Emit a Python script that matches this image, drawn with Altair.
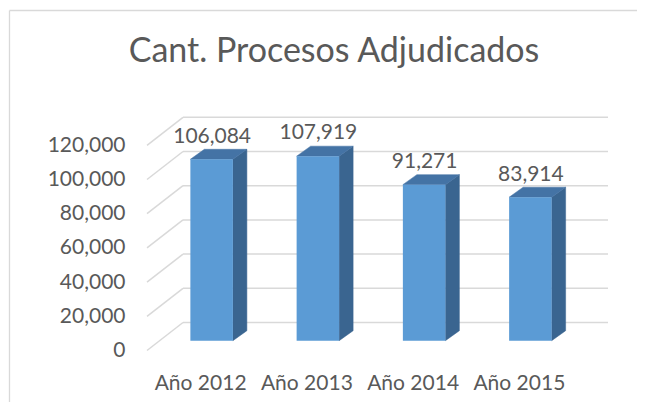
import altair as alt
import pandas as pd

# ---- data ----
categories = ["Año 2012", "Año 2013", "Año 2014", "Año 2015"]
values = [106084, 107919, 91271, 83914]
y_ticks = [0, 20000, 40000, 60000, 80000, 100000, 120000]
title_text = "Cant. Procesos Adjudicados"

# ---- geometry / style ----
W = 425.0
H = 205.2
YMAX = 120000
n = len(categories)
px_x = W / n
px_y = H / YMAX

BAR_HALF = 0.2
DEPTH_X = 14 / px_x
DEPTH_Y = 10 / px_y
BAR_DX = 11.5
BAR_DY = -9.8
WALL_DX = 36
WALL_DY = -28

FONT = "Lato"
FS = 21
TXT = "#595959"
GRID = "#D9D9D9"
FRONT = "#5B9BD5"
TOP = "#4473A5"
SIDE = "#3A6590"

front = pd.DataFrame({"cat": categories, "value": values, "i": list(range(n))})
front["x0"] = front["i"] + 0.5 - BAR_HALF
front["x1"] = front["i"] + 0.5 + BAR_HALF
front["xc"] = front["i"] + 0.5
front["zero"] = 0

side_rows, top_rows = [], []
for i, v in enumerate(values):
    xr = i + 0.5 + BAR_HALF
    xl = i + 0.5 - BAR_HALF
    side_rows.append({"bar": i, "x": xr, "top": v, "base": 0})
    side_rows.append({"bar": i, "x": xr + DEPTH_X, "top": v + DEPTH_Y, "base": DEPTH_Y})
    top_rows.append({"bar": i, "y": v, "xa": xl, "xb": xr})
    top_rows.append({"bar": i, "y": v + DEPTH_Y, "xa": xl + DEPTH_X, "xb": xr + DEPTH_X})
side = pd.DataFrame(side_rows)
topf = pd.DataFrame(top_rows)

grid = pd.DataFrame({"v": y_ticks, "x0": 0, "x1": n})

xs = alt.Scale(domain=[0, n], nice=False, zero=False)
ys = alt.Scale(domain=[0, YMAX], nice=False, zero=False)

label_expr = "[" + ",".join("'" + c + "'" for c in categories) + "][floor(datum.value)]"
x_axis = alt.Axis(values=[i + 0.5 for i in range(n)], labelExpr=label_expr, title=None,
                  grid=False, domain=False, ticks=False, tickSize=0, labelPadding=32.5,
                  labelBaseline="middle", labelFont=FONT, labelFontSize=FS, labelColor=TXT,
                  labelOverlap=False, labelFlush=False)
y_axis = alt.Axis(values=y_ticks, format=",d", title=None, grid=False, domain=False,
                  ticks=False, tickSize=0, labelPadding=22, labelBaseline="middle",
                  labelFont=FONT, labelFontSize=FS, labelColor=TXT)


def X(f):
    return alt.X(f, scale=xs, axis=x_axis, title=None)


def Y(f):
    return alt.Y(f, scale=ys, axis=y_axis, title=None, stack=None)


wall = alt.Chart(grid).mark_rule(color=GRID, strokeWidth=1.5, xOffset=WALL_DX, x2Offset=WALL_DX,
                                 yOffset=WALL_DY).encode(
    x=X("x0:Q"), x2="x1:Q", y=Y("v:Q"))

diag = alt.Chart(grid).mark_rule(color=GRID, strokeWidth=1.5, x2Offset=WALL_DX,
                                 y2Offset=WALL_DY).encode(
    x=X("x0:Q"), x2="x0:Q", y=Y("v:Q"), y2="v:Q")

face = alt.Chart(front).mark_rect(color=FRONT, xOffset=BAR_DX, x2Offset=BAR_DX,
                                  yOffset=BAR_DY, y2Offset=BAR_DY).encode(
    x=X("x0:Q"), x2="x1:Q", y=Y("value:Q"), y2="zero:Q")

side_face = alt.Chart(side).mark_area(orient="vertical", color=SIDE, stroke=SIDE, strokeWidth=0.5,
                                      xOffset=BAR_DX, yOffset=BAR_DY, y2Offset=BAR_DY).encode(
    x=X("x:Q"), y=Y("top:Q"), y2="base:Q", detail="bar:N")

top_face = alt.Chart(topf).mark_area(orient="horizontal", color=TOP, stroke=TOP, strokeWidth=0.5,
                                     xOffset=BAR_DX, x2Offset=BAR_DX, yOffset=BAR_DY).encode(
    y=Y("y:Q"), x=X("xa:Q"), x2="xb:Q", detail="bar:N")

labels = alt.Chart(front).mark_text(font=FONT, fontSize=FS, color=TXT, baseline="alphabetic",
                                    align="center", dx=BAR_DX + 0.5, dy=-26.5).encode(
    x=X("xc:Q"), y=Y("value:Q"), text=alt.Text("value:Q", format=",d"))

one = pd.DataFrame({"t": [title_text]})
border_left = alt.Chart(one).mark_rule(color=GRID, strokeWidth=1.3).encode(
    x=alt.value(-137.5), y=alt.value(-134.8), y2=alt.value(H + 60))
border_top = alt.Chart(one).mark_rule(color=GRID, strokeWidth=1.3).encode(
    x=alt.value(-137.5), x2=alt.value(W + 80), y=alt.value(-134.8))
title = alt.Chart(one).mark_text(font=FONT, fontSize=34, color=TXT, align="center",
                                 baseline="alphabetic").encode(
    x=alt.value(187), y=alt.value(-83), text="t:N")

chart = alt.layer(border_left, border_top, title, wall, diag, side_face, top_face, face, labels).properties(
    width=W, height=H,
    autosize=alt.AutoSizeParams(type="none"),
    padding={"left": 139, "top": 137.3, "right": 65, "bottom": 51.5},
).configure(background="white").configure_view(stroke=None)

chart.save("out.html", embed_options={"renderer": "svg", "actions": False})
